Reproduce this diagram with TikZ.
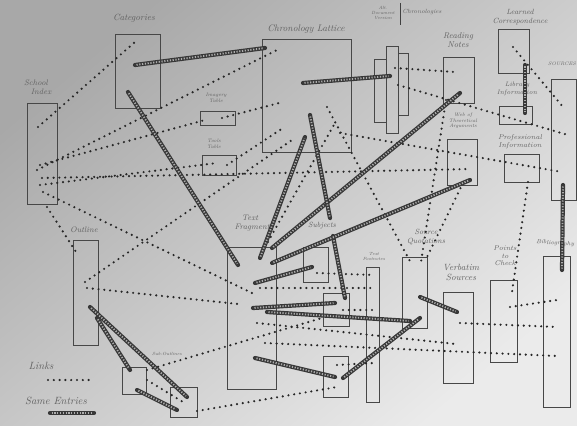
\documentclass[tikz,border=0pt]{standalone}
\usetikzlibrary{fit}
\newcommand\bx[5]{\node[box, fit={(#2,#3) (#4,#5)}] (#1) {};}
\newcommand\cn[4]{\coordinate (#1a) at (#2); \coordinate (#1b) at (#3); \draw[#4] (#1a) -- (#1b);}
\begin{document}
\begin{tikzpicture}[x=1pt,y=-1pt,
 box/.style={draw=black!72, line width=1pt, inner sep=0pt, rectangle},
 lbl/.style={text=black!62, align=center, inner sep=0pt},
 link/.style={draw=black!85, line width=2.4pt, line cap=round, dash pattern=on 0pt off 5.8pt},
 same/.style={draw=black!78, line width=4.2pt, line cap=round,
   postaction={draw=black!32, line width=1.8pt, line cap=butt, dash pattern=on 1.2pt off 1.6pt, shorten >=1.5pt, shorten <=1.5pt}}]
\useasboundingbox (0,0) rectangle (577,425);
\shade[top color=black!34, bottom color=black!8, shading angle=40] (0,0) rectangle (577,425);

% boxes
\bx{sch}{27}{103}{57}{204}
\bx{cat}{115}{35}{160}{108}
\bx{chr}{262}{40}{351}{152}
\bx{img}{200}{111}{235}{125}
\bx{tls}{202}{155}{236}{175}
\bx{stA}{374}{60}{386}{122}
\bx{stB}{386}{47}{398}{133}
\bx{stC}{398}{54}{408}{115}
\bx{rdn}{443}{58}{474}{103}
\bx{lco}{498}{30}{529}{74}
\bx{lib}{499}{106}{532}{124}
\bx{web}{447}{139}{477}{185}
\bx{prof}{504}{154}{539}{182}
\bx{src}{551}{80}{576}{200}
\bx{bib}{543}{256}{570}{407}
\bx{ptc}{490}{280}{517}{362}
\bx{verb}{443}{292}{473}{383}
\bx{sq}{402}{257}{427}{328}
\bx{foot}{366}{267}{379}{402}
\bx{subj}{303}{247}{328}{282}
\bx{sbb}{323}{293}{349}{326}
\bx{sbc}{323}{356}{348}{397}
\bx{tf}{227}{247}{276}{389}
\bx{out}{73}{240}{98}{345}
\bx{soa}{122}{367}{146}{394}
\bx{sob}{170}{387}{197}{417}

% labels
\node[lbl, font=\itshape\fontsize{8}{8.5}\selectfont] (tsch) at (36,87) {School\\\hspace*{10pt}Index};
\node[lbl, font=\itshape\fontsize{9}{10}\selectfont] (tcat) at (134,18) {Categories};
\node[lbl, font=\itshape\fontsize{9.5}{10}\selectfont] (tchr) at (306,29) {Chronology Lattice};
\node[lbl, font=\itshape\fontsize{5}{5.5}\selectfont] (timg) at (216,98) {Imagery\\Table};
\node[lbl, font=\itshape\fontsize{5}{5.5}\selectfont] (ttls) at (214,144) {Tools\\Table};
\node[lbl, font=\itshape\fontsize{4.5}{5}\selectfont] (talt) at (383,13) {Alt.\\Document\\Version};
\node[lbl, font=\itshape\fontsize{6}{6.5}\selectfont] (tchg) at (422,12) {Chronologies};
\node[lbl, font=\itshape\fontsize{8.5}{9.5}\selectfont] (trdn) at (458,40) {Reading\\Notes};
\node[lbl, font=\itshape\fontsize{7.5}{8.5}\selectfont] (tlco) at (520,17) {Learned\\Correspondence};
\node[lbl, font=\itshape\fontsize{6.5}{7.5}\selectfont] (tlib) at (517,89) {Library\\Information};
\node[lbl, font=\itshape\fontsize{5}{5.5}\selectfont] (tweb) at (463,121) {Web of\\Theoretical\\Arguments};
\node[lbl, font=\itshape\fontsize{7}{8}\selectfont] (tprof) at (520,142) {Professional\\Information};
\node[lbl, font=\itshape\fontsize{5}{6}\selectfont, anchor=west] (tsrc) at (548,64) {SOURCES};
\node[lbl, font=\itshape\fontsize{6}{7}\selectfont, anchor=west, rotate=-4] (tbib) at (536,242) {Bibliography};
\node[lbl, font=\itshape\fontsize{7}{7.5}\selectfont] (tptc) at (505,256) {Points\\to\\Check};
\node[lbl, font=\itshape\fontsize{9}{10}\selectfont] (tverb) at (461,272) {Verbatim\\Sources};
\node[lbl, font=\itshape\fontsize{7.5}{8.5}\selectfont] (tsq) at (426,237) {Source\\Quotations};
\node[lbl, font=\itshape\fontsize{4.5}{5}\selectfont] (tfoot) at (374,256) {Text\\Footnotes};
\node[lbl, font=\itshape\fontsize{7.5}{8}\selectfont] (tsubj) at (322,226) {Subjects};
\node[lbl, font=\itshape\fontsize{8}{9}\selectfont] (ttf) at (250,223) {Text\\\hspace*{8pt}Fragments};
\node[lbl, font=\itshape\fontsize{8}{9}\selectfont] (tout) at (84,230) {Outline};
\node[lbl, font=\itshape\fontsize{4.5}{5}\selectfont] (tso) at (167,354) {Sub-Outlines};
\node[lbl, font=\itshape\fontsize{10.5}{11}\selectfont] (tlinks) at (41,366) {Links};
\node[lbl, font=\itshape\fontsize{10.5}{11}\selectfont] (tsame) at (56,401) {Same Entries};

\coordinate (altA) at (400,3); \coordinate (altB) at (400,25);
\draw[black!75, line width=1pt] (altA) -- (altB);

% legend samples
\cn{lgl}{48,380}{90,380}{link}
\cn{lgs}{50,413}{94,413}{same}

% dotted links
\cn{la}{395,68}{455,72}{link}
\cn{lb}{398,85}{568,135}{link}
\cn{lc}{513,47}{563,107}{link}
\cn{ld}{446,100}{421,262}{link}
\cn{le}{327,107}{412,265}{link}
\cn{lf}{463,183}{427,257}{link}
\cn{lg}{528,182}{512,292}{link}
\cn{lh}{340,133}{562,172}{link}
\cn{li}{38,127}{135,42}{link}
\cn{lj}{37,170}{277,50}{link}
\cn{lk}{40,165}{205,120}{link}
\cn{ll}{222,118}{283,102}{link}
\cn{lm}{40,185}{217,163}{link}
\cn{ln}{227,165}{283,128}{link}
\cn{lo}{42,178}{470,169}{link}
\cn{lp}{43,192}{252,293}{link}
\cn{lq}{47,207}{78,255}{link}
\cn{lr}{85,282}{292,140}{link}
\cn{ls}{265,247}{335,123}{link}
\cn{lt}{317,273}{373,275}{link}
\cn{lu}{260,288}{373,288}{link}
\cn{lv}{87,288}{238,304}{link}
\cn{lw}{343,310}{373,310}{link}
\cn{lx}{147,370}{322,318}{link}
\cn{ly}{257,323}{456,344}{link}
\cn{lz}{265,343}{557,356}{link}
\cn{lA}{460,323}{558,327}{link}
\cn{lB}{510,307}{557,300}{link}
\cn{lC}{337,365}{373,363}{link}
\cn{lD}{197,411}{337,387}{link}
\cn{lE}{147,380}{183,402}{link}

% same entries
\cn{sa}{135,65}{265,48}{same}
\cn{sb}{303,83}{390,76}{same}
\cn{sc}{272,248}{460,93}{same}
\cn{sd}{525,65}{525,113}{same}
\cn{se}{563,185}{562,270}{same}
\cn{sf}{128,92}{238,265}{same}
\cn{sg}{260,258}{305,137}{same}
\cn{sh}{310,115}{330,218}{same}
\cn{si}{333,236}{345,298}{same}
\cn{sj}{272,263}{470,180}{same}
\cn{sk}{255,283}{312,267}{same}
\cn{sl}{253,308}{335,303}{same}
\cn{sm}{267,312}{410,321}{same}
\cn{sn}{255,358}{335,377}{same}
\cn{so}{343,378}{420,318}{same}
\cn{sp}{90,307}{187,397}{same}
\cn{sq}{97,318}{130,370}{same}
\cn{sr}{137,390}{177,410}{same}
\cn{ss}{420,297}{457,312}{same}
\end{tikzpicture}
\end{document}
